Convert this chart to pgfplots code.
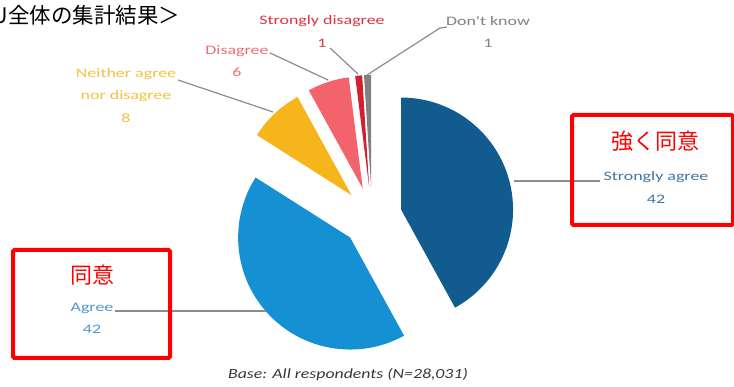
\documentclass[border=0pt]{standalone}
\usepackage{pgfplots}
\pgfplotsset{compat=1.18}
\usepackage{pgfplotstable}
\usepackage{fontspec}
\setmainfont{Carlito}
\newfontfamily\lab[FakeStretch=1.38]{Carlito}
\newfontfamily\foot[FakeStretch=1.27]{Carlito}
\newfontfamily\jp{Noto Sans CJK JP}
\definecolor{cSA}{HTML}{125B8F}
\definecolor{cA}{HTML}{1490D3}
\definecolor{cN}{HTML}{F6B51B}
\definecolor{cD}{HTML}{F2636C}
\definecolor{cSD}{HTML}{D41F30}
\definecolor{cDK}{HTML}{808080}
\definecolor{tSA}{HTML}{3F76A3}
\definecolor{tA}{HTML}{4F96D0}
\definecolor{tN}{HTML}{F4C142}
\definecolor{tD}{HTML}{EE6F74}
\definecolor{tSD}{HTML}{DE3443}
\definecolor{tDK}{HTML}{808080}
\definecolor{lead}{HTML}{8C8C8C}
\pgfplotstableread{
label value col
SA 42 cSA
A 42 cA
N 8 cN
D 6 cD
SD 1 cSD
DK 1 cDK
}\piedata
\begin{document}
\begin{tikzpicture}
\path[use as bounding box] (0,0) rectangle (734pt,387pt);
\clip (0,0) rectangle (734pt,387pt);
\begin{axis}[at={(0,0)}, anchor=south west, width=734pt, height=387pt,
  scale only axis, xmin=0, xmax=734, ymin=0, ymax=387, hide axis, clip=false]
\gdef\cum{0}
\pgfplotsinvokeforeach{0,...,5}{
  \pgfplotstablegetelem{#1}{value}\of\piedata \let\val\pgfplotsretval
  \pgfplotstablegetelem{#1}{col}\of\piedata \let\col\pgfplotsretval
  \pgfmathsetmacro\sa{90-3.6*\cum}
  \pgfmathsetmacro\ea{90-3.6*(\cum+\val)}
  \pgfmathsetmacro\midang{(\sa+\ea)/2}
  \pgfmathsetmacro\cx{372+30*cos(\midang)}
  \pgfmathsetmacro\cy{170+30*sin(\midang)}
  \edef\temp{\noexpand\fill[\col] (axis cs:\cx,\cy) -- ++(\sa:112pt) arc[start angle=\sa, end angle=\ea, radius=112pt] -- cycle;}
  \temp
  \pgfmathsetmacro\newcum{\cum+\val}
  \xdef\cum{\newcum}
}
% leader lines
\draw[lead, line width=1.2pt] (axis cs:514,206) -- (axis cs:600,206);
\draw[lead, line width=1.2pt] (axis cs:115,76) -- (axis cs:266,76);
\draw[lead, line width=1.2pt] (axis cs:178,307) -- (axis cs:273,275);
\draw[lead, line width=1.2pt] (axis cs:270,334) -- (axis cs:328,307);
\draw[lead, line width=1.2pt] (axis cs:330,339) -- (axis cs:358,313);
\draw[lead, line width=1.2pt] (axis cs:447,360) -- (axis cs:440,359) -- (axis cs:367,312);
% labels
\node[font=\lab\fontsize{13}{22.5}\selectfont, text=tSA, align=center] at (axis cs:656,199.5) {Strongly agree\\42};
\node[font=\lab\fontsize{13}{22.5}\selectfont, text=tA, align=center] at (axis cs:92,68.5) {Agree\\42};
\node[font=\lab\fontsize{13}{22.5}\selectfont, text=tN, align=center] at (axis cs:126,291.5) {Neither agree\\nor disagree\\8};
\node[font=\lab\fontsize{13}{22.5}\selectfont, text=tD, align=center] at (axis cs:237,326) {Disagree\\6};
\node[font=\lab\fontsize{13}{22.5}\selectfont, text=tSD, align=center] at (axis cs:322,355.5) {Strongly disagree\\1};
\node[font=\lab\fontsize{13}{22.5}\selectfont, text=tDK, align=center] at (axis cs:488,355) {Don't know\\1};
\node[font=\foot\itshape\fontsize{14}{16}\selectfont, text=black!78] at (axis cs:348,12) {Base: All respondents (N=28,031)};
% title (its left end is cut off by the picture's edge, as in the reference)
\node[font=\jp\fontsize{21.5}{23}\selectfont, anchor=west, inner sep=0pt] at (axis cs:8,372) {\llap{EU}全体の集計結果＞};
% red boxes
\draw[red, line width=4pt, rounded corners=1.5pt] (axis cs:572,272) rectangle (axis cs:733,162);
\draw[red, line width=4pt, rounded corners=1.5pt] (axis cs:13,137) rectangle (axis cs:170,29);
\node[font=\jp\fontsize{22}{24}\selectfont, text=red] at (axis cs:655,246) {強く同意};
\node[font=\jp\fontsize{22}{24}\selectfont, text=red] at (axis cs:92,112) {同意};
\end{axis}
\end{tikzpicture}
\end{document}
